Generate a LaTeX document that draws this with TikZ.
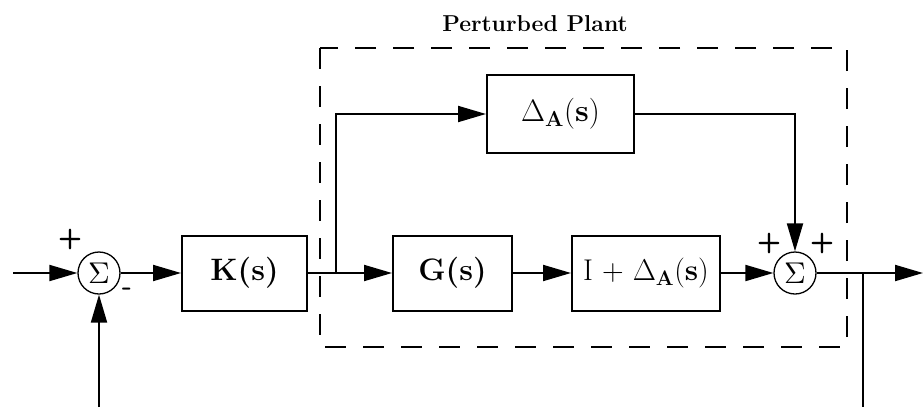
\RequirePackage{fix-cm}
\documentclass[tikz,border=0pt]{standalone}
\usepackage{graphicx}
\usetikzlibrary{arrows.meta}
\newcommand{\sumsym}{\scalebox{3.0}{\fontsize{10}{12}\selectfont$\Sigma$}}
\begin{document}
\begin{tikzpicture}[x=1pt,y=-1pt,
  line width=2pt,
  sig/.style={-{Triangle[length=28pt,width=16pt]}},
  block/.style={draw,line width=2pt,inner sep=0pt,font=\fontsize{30}{34}\selectfont},
  bigtext/.style={font=\fontsize{31}{35}\selectfont\bfseries},
  sumnode/.style={draw,circle,line width=1.3pt,minimum size=42pt,inner sep=0pt},
  sign/.style={font=\fontsize{28}{32}\selectfont\sffamily\bfseries,inner sep=0pt},
  title/.style={font=\fontsize{23}{27}\selectfont\bfseries},
  plant/.style={draw,line width=2pt,dash pattern=on 21pt off 17pt}]
\useasboundingbox (0,0) rectangle (923,407);
% dashed plant boundary
\draw[plant] (320,48) rectangle (847,347);
\node[title] (ttl) at (535,24) {Perturbed Plant};
% nodes
\node[sumnode] (s1) at (99,273) {\sumsym};
\node[block,bigtext,minimum width=125pt,minimum height=75pt] (K) at (244.5,273) {K(s)};
\node[block,bigtext,minimum width=119pt,minimum height=75pt] (G) at (452.5,273) {G(s)};
\node[block,minimum width=148pt,minimum height=75pt] (ID) at (646,273) {I + $\Delta_{\mathbf{A}}\mathbf{(s)}$};
\node[block,font=\fontsize{31}{35}\selectfont,minimum width=147pt,minimum height=78pt] (D) at (560.5,114) {$\Delta_{\mathbf{A}}\mathbf{(s)}$};
\node[sumnode] (s2) at (795,273) {\sumsym};
% signs
\node[sign] (p1) at (70,239) {+};
\node[sign] (m1) at (127,292) {-};
\node[sign] (p2) at (769,243) {+};
\node[sign] (p3) at (822,243) {+};
% coordinates
\coordinate (in) at (13,273);
\coordinate (b1) at (336,273);
\coordinate (b2) at (863,273);
\coordinate (out) at (923,273);
\coordinate (fb1) at (99,407);
\coordinate (fb2) at (863,407);
% connectors
\draw[sig] (in) -- (s1.west);
\draw[sig] (s1.east) -- (K.west);
\draw[sig] (K.east) -- (G.west);
\draw[sig] (b1) |- (D.west);
\draw[sig] (G.east) -- (ID.west);
\draw[sig] (ID.east) -- (s2.west);
\draw[sig] (D.east) -| (s2.north);
\draw[sig] (s2.east) -- (out);
\draw (b2) -- (fb2);
\draw[sig] (fb1) -- (s1.south);
\end{tikzpicture}
\end{document}
